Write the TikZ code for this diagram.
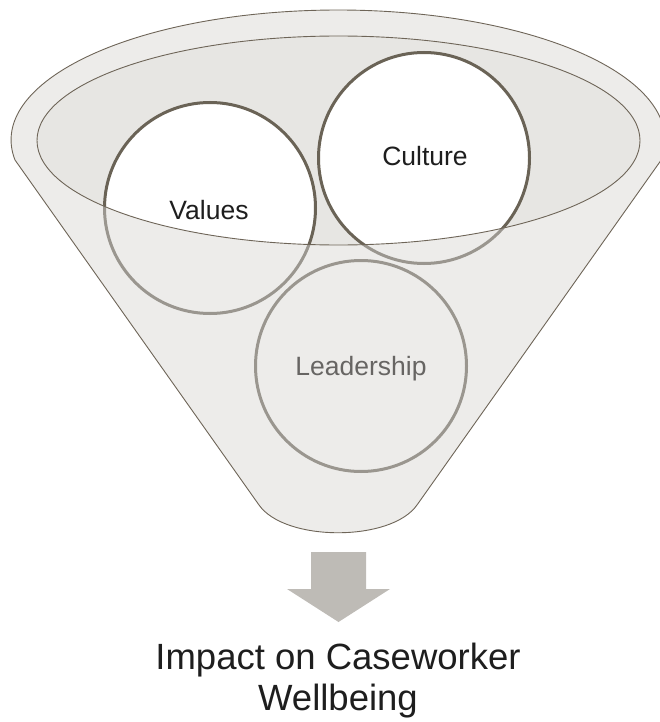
\documentclass[tikz,border=0pt]{standalone}
\usepackage{fontspec}
\setmainfont{Liberation Sans}
\definecolor{bodyfill}{HTML}{EDECEA}
\definecolor{innerfill}{HTML}{E7E6E3}
\definecolor{outline}{HTML}{6E6558}
\definecolor{ringdark}{HTML}{6A6356}
\definecolor{ringlight}{HTML}{9A968F}
\definecolor{arrowfill}{HTML}{BEBBB6}
\definecolor{txtdark}{HTML}{1E1E1E}
\definecolor{txtlight}{HTML}{676563}
\tikzset{
  ringtop/.style={draw=ringdark, line width=3pt, fill=white},
  ringlow/.style={draw=ringlight, line width=3pt},
  lbl/.style={anchor=base, inner sep=0pt, font=\fontsize{26.5}{30}\selectfont},
  bigtxt/.style={anchor=base, inner sep=0pt, text=txtdark, font=\fontsize{36.5}{41}\selectfont},
  thinline/.style={draw=outline, line width=0.9pt}
}
\begin{document}
\begin{tikzpicture}[x=1pt,y=-1pt]
\useasboundingbox (0,0) rectangle (659,722);
\coordinate (oc) at (338,140);
\coordinate (ic) at (338.5,140.5);
\coordinate (vc) at (210,208);
\coordinate (cc) at (424,158);
\coordinate (lc) at (361,366);
\coordinate (lcorner) at (15,160);
\coordinate (rcorner) at (661,160);
\coordinate (lbot) at (259,505);
\coordinate (rbot) at (417,505);
\def\funnel{(lcorner) arc[start angle=171.15, end angle=368.85, x radius=327, y radius=130] -- (rbot) .. controls (391,542) and (285,542) .. (lbot) -- cycle}
% back funnel
\fill[bodyfill] \funnel;
\fill[innerfill] (ic) ellipse[x radius=301.5, y radius=104.5];
% circles inside the mouth
\path[ringtop] (vc) circle[radius=105.5];
\path[ringtop] (cc) circle[radius=105.5];
% front part of funnel body
\begin{scope}
\clip (37,140.5) arc[start angle=180, end angle=0, x radius=301.5, y radius=104.5] -- (720,140.5) -- (720,800) -- (-60,800) -- (-60,140.5) -- cycle;
\fill[bodyfill] \funnel;
\path[ringlow] (vc) circle[radius=105.5];
\path[ringlow] (cc) circle[radius=105.5];
\path[ringlow] (lc) circle[radius=105.5];
\end{scope}
% outlines
\path[thinline] (ic) ellipse[x radius=301.5, y radius=104.5];
\path[thinline] \funnel;
% labels
\node[lbl, text=txtdark] (values) at (209,219.5) {Values};
\node[lbl, text=txtdark] (culture) at (425,166) {Culture};
\node[lbl, text=txtlight] (leadership) at (361,375) {Leadership};
% arrow
\fill[arrowfill] (311,552) -- (366,552) -- (366,589) -- (390,589) -- (338.5,622) -- (287,589) -- (311,589) -- cycle;
% result text
\node[bigtxt] (impact) at (338,669) {Impact on Caseworker};
\node[bigtxt] (wellbeing) at (338,710) {Wellbeing};
\end{tikzpicture}
\end{document}
